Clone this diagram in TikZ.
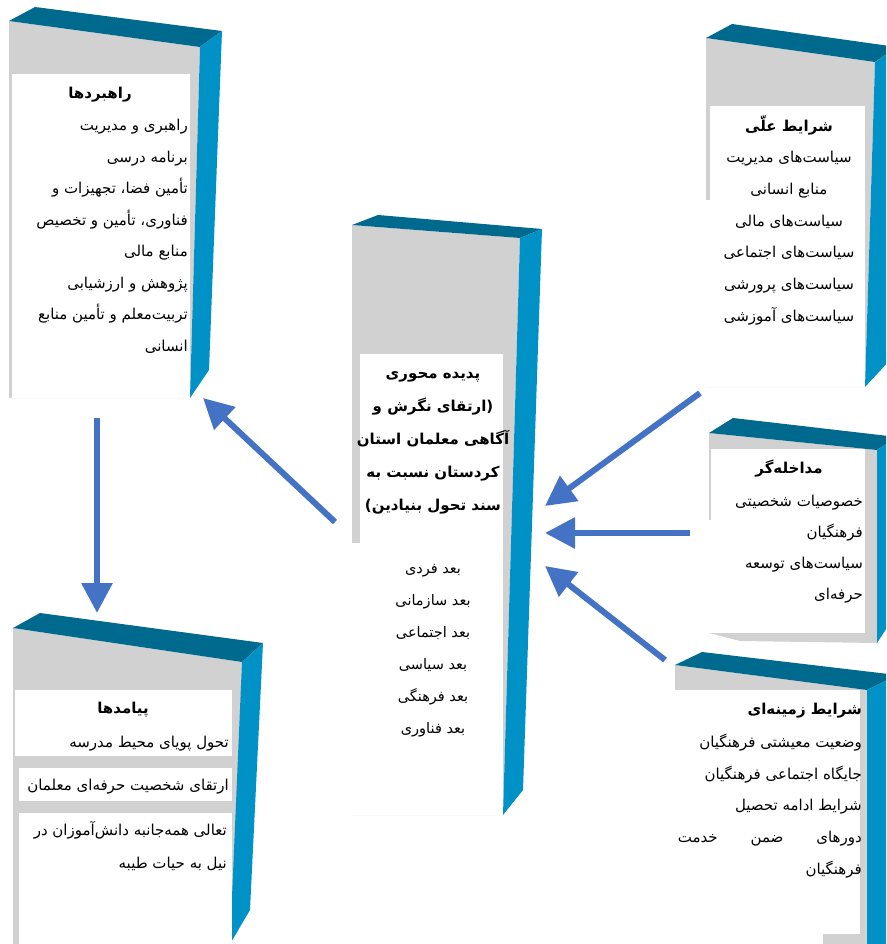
\documentclass[tikz,border=0pt]{standalone}
\usepackage{fontspec}
\usepackage{tikz}
\usetikzlibrary{arrows.meta}
\newfontfamily\farsi[Script=Arabic]{DejaVu Sans}
\TeXXeTstate=1
\newcommand{\fa}[1]{\beginR #1\endR}
\definecolor{topblue}{HTML}{006A8E}
\definecolor{sideblue}{HTML}{0091C7}
\definecolor{frontgray}{HTML}{D1D1D1}
\definecolor{arrowblue}{HTML}{4472C4}

\begin{document}
\begin{tikzpicture}[x=1pt,y=-1pt]
  \tikzset{topface/.style = {fill=topblue}}
  \tikzset{sideface/.style = {fill=sideblue}}
  \tikzset{frontface/.style = {fill=frontgray}}
  \tikzset{paper/.style = {fill=white}}
  \tikzset{head/.style = {font=\fontsize{15}{33}\farsi\bfseries, inner sep=0pt, align=center}}
  \tikzset{items/.style = {font=\fontsize{15}{31.5}\farsi, inner sep=0pt, align=right}}
  \tikzset{flow/.style = {draw=arrowblue, line width=6pt, -{Triangle[length=30pt,width=30pt]}}}

\useasboundingbox (0,0) rectangle (886,944);
\clip (0,0) rectangle (886,944);

% strategies (top left)
\fill[frontface] (9,21) -- (200,47) -- (190,398) -- (9,398) -- cycle;
\fill[topface] (9,21) -- (35,7) -- (222,31) -- (200,47) -- cycle;
\fill[sideface] (200,47) -- (222,31) -- (209,370) -- (190,398) -- cycle;
\fill[paper] (12,74) rectangle (190,398);

% causal conditions (top right)
\fill[frontface] (706,38) -- (875,62) -- (865,387) -- (706,387) -- cycle;
\fill[topface] (706,38) -- (732,24) -- (897,47) -- (875,62) -- cycle;
\fill[sideface] (875,62) -- (897,47) -- (890,360) -- (865,387) -- cycle;
\fill[paper] (710,106) rectangle (865,387);
\fill[paper] (706,200) rectangle (865,387);

% core phenomenon (middle)
\fill[frontface] (352,225) -- (520,238) -- (503,815) -- (352,815) -- cycle;
\fill[topface] (352,225) -- (378,215) -- (542,229) -- (520,238) -- cycle;
\fill[sideface] (520,238) -- (542,229) -- (523,790) -- (503,815) -- cycle;
\fill[paper] (360,354) rectangle (503,815);
\fill[paper] (352,543) rectangle (503,815);

% intervening conditions
\fill[frontface] (709,433) -- (877,450) -- (877,643) -- (740,641) -- (709,633) -- cycle;
\fill[topface] (709,433) -- (733,418) -- (897,437) -- (877,450) -- cycle;
\fill[sideface] (877,450) -- (897,437) -- (892,620) -- (877,643) -- cycle;
\fill[paper] (711,449) rectangle (865,633);
\fill[paper] (709,520) rectangle (865,633);

% contextual conditions
\fill[frontface] (675,665) -- (867,690) -- (867,944) -- (675,944) -- cycle;
\fill[topface] (675,665) -- (702,652) -- (897,675) -- (867,690) -- cycle;
\fill[sideface] (867,690) -- (897,675) -- (892,944) -- (867,944) -- cycle;
\fill[paper] (674,690) rectangle (860,934);
\fill[paper] (674,900) rectangle (823,944);

% outcomes (bottom left)
\fill[frontface] (13,628) -- (242,662) -- (232,944) -- (13,944) -- cycle;
\fill[topface] (13,628) -- (40,613) -- (263,643) -- (242,662) -- cycle;
\fill[sideface] (242,662) -- (263,643) -- (250,910) -- (230,944) -- cycle;
\fill[paper] (15,690) rectangle (232,756);
\fill[paper] (19,768) rectangle (232,801);
\fill[paper] (19,813) rectangle (232,944);

% texts
\node[head] (strat-title) at (100,95) {\fa{راهبردها}};
\node[items, anchor=north east] (strat) at (188,119) {%
  \fa{راهبری و مدیریت}\\
  \fa{برنامه درسی}\\
  \fa{تأمین فضا، تجهیزات و}\\
  \fa{فناوری، تأمین و تخصیص}\\
  \fa{منابع مالی}\\
  \fa{پژوهش و ارزشیابی}\\
  \fa{تربیت^^^^200cمعلم و تأمین منابع}\\
  \fa{انسانی}};

\node[head] (cause-title) at (789,125) {\fa{شرایط علّی}};
\node[items, align=center, anchor=north, font=\fontsize{15}{31.8}\farsi] (cause) at (789,151) {%
  \fa{سیاست^^^^200cهای مدیریت}\\
  \fa{منابع انسانی}\\
  \fa{سیاست^^^^200cهای مالی}\\
  \fa{سیاست^^^^200cهای اجتماعی}\\
  \fa{سیاست^^^^200cهای پرورشی}\\
  \fa{سیاست^^^^200cهای آموزشی}};

\node[head, anchor=north] (core-title) at (433,371) {%
  \fa{پدیده محوری}\\
  \fa{(ارتقای نگرش و}\\
  \fa{آگاهی معلمان استان}\\
  \fa{کردستان نسبت به}\\
  \fa{سند تحول بنیادین)}};
\node[items, align=center, anchor=north, font=\fontsize{14.5}{32}\farsi] (core) at (433,564) {%
  \fa{بعد فردی}\\
  \fa{بعد سازمانی}\\
  \fa{بعد اجتماعی}\\
  \fa{بعد سیاسی}\\
  \fa{بعد فرهنگی}\\
  \fa{بعد فناوری}};

\node[head] (inter-title) at (789,469) {\fa{مداخله^^^^200cگر}};
\node[items, anchor=north east, font=\fontsize{15}{31}\farsi] (inter) at (863,495) {%
  \fa{خصوصیات شخصیتی}\\
  \fa{فرهنگیان}\\
  \fa{سیاست^^^^200cهای توسعه}\\
  \fa{حرفه^^^^200cای}};

\node[head, anchor=east] (context-title) at (862,711) {\fa{شرایط زمینه^^^^200cای}};
\node[items, anchor=north east, font=\fontsize{15}{31.6}\farsi] (context) at (862,734) {%
  \fa{وضعیت معیشتی فرهنگیان}\\
  \fa{جایگاه اجتماعی فرهنگیان}\\
  \fa{شرایط ادامه تحصیل}\\
  \makebox[184pt]{\beginR دورهای\hfill ضمن\hfill خدمت\endR}\\
  \fa{فرهنگیان}};

\node[head] (out-title) at (123,710) {\fa{پیامدها}};
\node[items, anchor=east] (out-a) at (229,744) {\fa{تحول پویای محیط مدرسه}};
\node[items, anchor=east] (out-b) at (229,787) {\fa{ارتقای شخصیت حرفه^^^^200cای معلمان}};
\node[items, anchor=north east, font=\fontsize{15}{33}\farsi] (out-c) at (227,821) {%
  \fa{تعالی همه^^^^200cجانبه دانش^^^^200cآموزان در}\\
  \fa{نیل به حیات طیبه}};

% arrow ends
\coordinate (core-w) at (335,522);
\coordinate (strat-s) at (203,398);
\coordinate (strat-b) at (97,418);
\coordinate (out-n) at (97,613);
\coordinate (cause-sw) at (700,393);
\coordinate (core-ne) at (545,506);
\coordinate (inter-w) at (690,533);
\coordinate (core-e) at (545,533);
\coordinate (context-nw) at (665,660);
\coordinate (core-se) at (545,566);

\draw[flow] (core-w) -- (strat-s);
\draw[flow] (strat-b) -- (out-n);
\draw[flow] (cause-sw) -- (core-ne);
\draw[flow] (inter-w) -- (core-e);
\draw[flow] (context-nw) -- (core-se);

\end{tikzpicture}
\end{document}
